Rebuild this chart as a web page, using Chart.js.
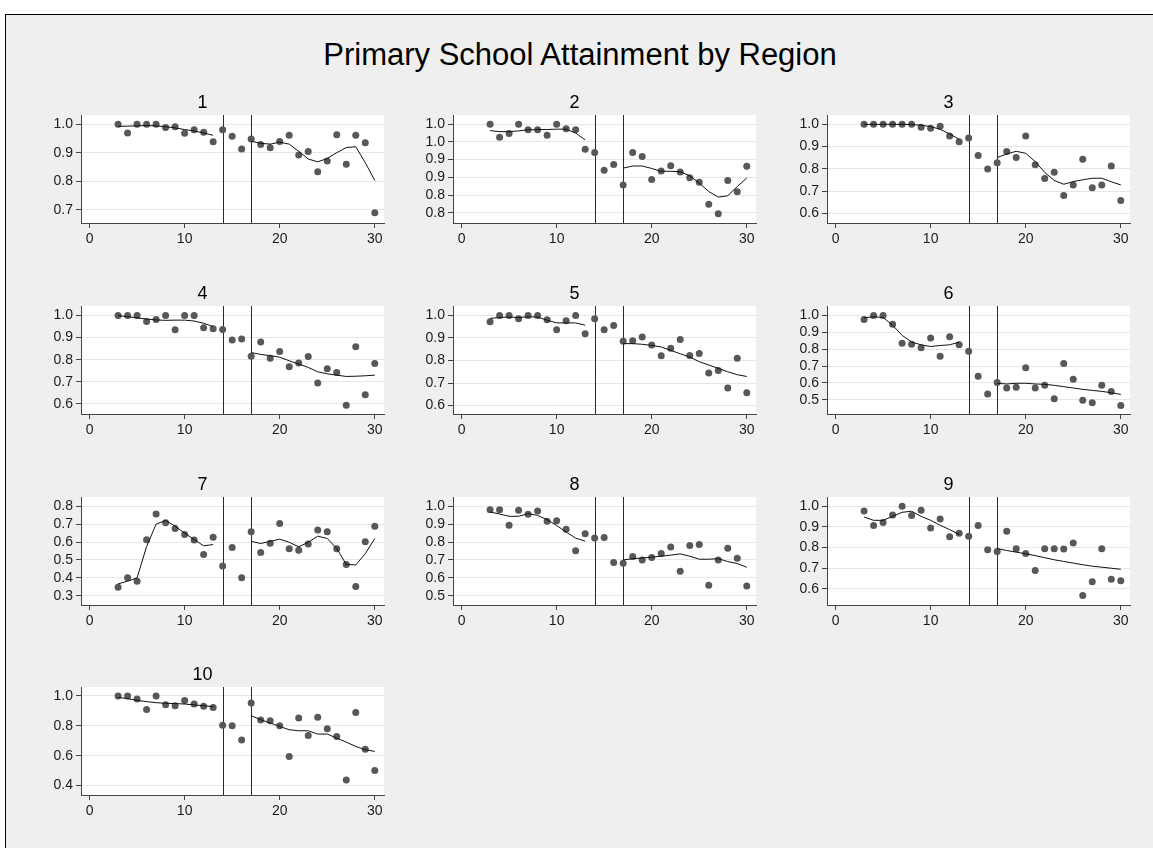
<!DOCTYPE html>
<html>
<head>
<meta charset="utf-8">
<title>Primary School Attainment by Region</title>
<script src="https://cdn.jsdelivr.net/npm/chart.js@4"></script>
<style>
  html, body { margin: 0; padding: 0; background: #ffffff; width: 1153px; height: 848px; overflow: hidden; }
  #frame { position: absolute; left: 5px; top: 14px; width: 1148px; height: 834px; background: #efefef;
           border-left: 1px solid #000; border-top: 1px solid #000; box-sizing: border-box; }
  #title { position: absolute; left: 0; top: 36px; width: 1160px; text-align: center;
           font: 31px "Liberation Sans", Arial, sans-serif; color: #000; line-height: 37px; }
  canvas { position: absolute; }
</style>
</head>
<body>
<div id="frame"></div>
<div id="title">Primary School Attainment by Region</div>
<script>
// Survey years on the x axis (one observation per year, 3..30)
const years = [3,4,5,6,7,8,9,10,11,12,13,14,15,16,17,18,19,20,21,22,23,24,25,26,27,28,29,30];
const regions = ['1','2','3','4','5','6','7','8','9','10'];
const xTicks = [0, 10, 20, 30];
const breakYears = [14, 17];

// Attainment rates by region
const attain1  = [1.000,0.969,1.000,1.000,1.000,0.988,0.991,0.968,0.980,0.972,0.938,0.980,0.958,0.913,0.948,0.929,0.917,0.939,0.961,0.892,0.904,0.833,0.871,0.963,0.860,0.961,0.935,0.690];
const attain2  = [1.000,0.963,0.974,1.000,0.984,0.984,0.969,1.000,0.987,0.984,0.929,0.920,0.870,0.886,0.828,0.920,0.909,0.844,0.868,0.883,0.865,0.849,0.836,0.774,0.747,0.841,0.809,0.881];
const attain3  = [1.000,1.000,1.000,1.000,1.000,1.000,0.987,0.982,0.991,0.948,0.922,0.939,0.860,0.799,0.828,0.878,0.851,0.948,0.819,0.757,0.785,0.681,0.728,0.843,0.715,0.728,0.813,0.658];
const attain4  = [1.000,1.000,1.000,0.973,0.982,1.000,0.936,1.000,1.000,0.945,0.940,0.937,0.889,0.894,0.815,0.880,0.806,0.837,0.768,0.785,0.814,0.694,0.759,0.742,0.594,0.858,0.641,0.783];
const attain5  = [0.972,1.000,1.000,0.985,1.000,1.000,0.981,0.936,0.976,1.000,0.919,0.985,0.936,0.955,0.885,0.888,0.904,0.869,0.821,0.854,0.893,0.822,0.831,0.745,0.756,0.678,0.810,0.657];
const attain6  = [0.976,1.000,1.000,0.948,0.836,0.830,0.808,0.866,0.758,0.874,0.826,0.788,0.640,0.534,0.602,0.570,0.574,0.690,0.570,0.586,0.506,0.716,0.622,0.498,0.482,0.586,0.550,0.466];
const attain7  = [0.347,0.400,0.381,0.613,0.757,0.708,0.676,0.642,0.612,0.530,0.627,0.466,0.570,0.400,0.657,0.541,0.593,0.704,0.562,0.554,0.589,0.668,0.657,0.562,0.475,0.352,0.602,0.689];
const attain8  = [0.981,0.981,0.894,0.978,0.955,0.974,0.917,0.919,0.872,0.752,0.846,0.823,0.826,0.685,0.682,0.719,0.700,0.713,0.736,0.773,0.637,0.781,0.787,0.558,0.700,0.766,0.710,0.554];
const attain9  = [0.977,0.907,0.922,0.958,1.000,0.956,0.981,0.895,0.939,0.852,0.870,0.855,0.907,0.789,0.781,0.879,0.795,0.771,0.689,0.795,0.794,0.793,0.822,0.568,0.634,0.795,0.647,0.640];
const attain10 = [1.000,1.000,0.980,0.910,1.000,0.942,0.935,0.969,0.947,0.931,0.922,0.804,0.800,0.706,0.953,0.839,0.834,0.800,0.595,0.852,0.735,0.858,0.780,0.729,0.438,0.890,0.644,0.501];

// Lowess smooths, fitted separately before and after the break (gap at 14-16)
const smooth1  = [0.992,0.993,0.994,0.995,0.994,0.991,0.987,0.981,0.976,0.969,0.961,null,null,null,0.940,0.933,0.930,0.937,0.930,0.905,0.878,0.868,0.880,0.900,0.918,0.921,0.865,0.803];
const smooth2  = [0.982,0.979,0.979,0.981,0.984,0.985,0.985,0.986,0.986,0.975,0.956,null,null,null,0.876,0.882,0.882,0.875,0.867,0.867,0.866,0.854,0.834,0.810,0.794,0.798,0.824,0.848];
const smooth3  = [1.000,1.000,1.000,1.000,1.000,0.999,0.996,0.990,0.978,0.957,0.933,null,null,null,0.851,0.867,0.879,0.870,0.833,0.784,0.748,0.731,0.743,0.751,0.758,0.758,0.742,0.728];
const smooth4  = [0.999,0.995,0.989,0.984,0.980,0.978,0.979,0.979,0.975,0.965,0.950,null,null,null,0.832,0.824,0.818,0.811,0.795,0.780,0.765,0.745,0.736,0.730,0.724,0.725,0.727,0.730];
const smooth5  = [0.987,0.991,0.993,0.991,0.994,0.993,0.979,0.967,0.967,0.967,0.957,null,null,null,0.875,0.875,0.872,0.867,0.860,0.845,0.830,0.815,0.795,0.780,0.765,0.750,0.737,0.729];
const smooth6  = [0.986,0.992,0.988,0.942,0.882,0.842,0.826,0.816,0.822,0.826,0.842,null,null,null,0.598,0.594,0.598,0.598,0.594,0.592,0.586,0.578,0.570,0.562,0.556,0.550,0.542,0.532];
const smooth7  = [0.366,0.381,0.400,0.575,0.700,0.721,0.689,0.650,0.614,0.579,0.586,null,null,null,0.604,0.592,0.604,0.616,0.599,0.573,0.599,0.633,0.620,0.564,0.475,0.472,0.535,0.620];
const smooth8  = [0.968,0.957,0.944,0.944,0.959,0.949,0.925,0.893,0.856,0.822,0.805,null,null,null,0.700,0.707,0.711,0.715,0.721,0.727,0.734,0.721,0.704,0.704,0.707,0.691,0.680,0.659];
const smooth9  = [0.948,0.932,0.932,0.951,0.971,0.976,0.951,0.932,0.908,0.887,0.864,null,null,null,0.795,0.786,0.778,0.770,0.761,0.751,0.741,0.733,0.725,0.717,0.710,0.705,0.700,0.695];
const smooth10 = [0.991,0.982,0.971,0.962,0.955,0.951,0.949,0.946,0.940,0.935,0.928,null,null,null,0.868,0.841,0.819,0.796,0.774,0.767,0.767,0.745,0.745,0.718,0.691,0.662,0.640,0.629];

// y-axis tick values and their printed labels (one decimal place)
const yTicksA = [0.7, 0.8, 0.9, 1.0];
const yLabelsA = ['0.7','0.8','0.9','1.0'];
const yTicksB = [0.75, 0.8, 0.85, 0.9, 0.95, 1.0];
const yLabelsB = ['0.8','0.8','0.9','0.9','1.0','1.0'];
const yTicksC = [0.6, 0.7, 0.8, 0.9, 1.0];
const yLabelsC = ['0.6','0.7','0.8','0.9','1.0'];
const yTicksD = [0.5, 0.6, 0.7, 0.8, 0.9, 1.0];
const yLabelsD = ['0.5','0.6','0.7','0.8','0.9','1.0'];
const yTicksE = [0.3, 0.4, 0.5, 0.6, 0.7, 0.8];
const yLabelsE = ['0.3','0.4','0.5','0.6','0.7','0.8'];
const yTicksF = [0.4, 0.6, 0.8, 1.0];
const yLabelsF = ['0.4','0.6','0.8','1.0'];

// y-axis extents per region
const yMin = [0.654, 0.721, 0.557, 0.554, 0.5625, 0.416, 0.248, 0.448, 0.522, 0.337];
const yMax = [1.032, 1.026, 1.042, 1.043, 1.042, 1.056, 0.852, 1.052, 1.045, 1.060];

const attainment = [attain1, attain2, attain3, attain4, attain5, attain6, attain7, attain8, attain9, attain10];
const smooths = [smooth1, smooth2, smooth3, smooth4, smooth5, smooth6, smooth7, smooth8, smooth9, smooth10];
const tickSets = [
  [yTicksA, yLabelsA], [yTicksB, yLabelsB], [yTicksC, yLabelsC],
  [yTicksC, yLabelsC], [yTicksC, yLabelsC], [yTicksD, yLabelsD],
  [yTicksE, yLabelsE], [yTicksD, yLabelsD], [yTicksC, yLabelsC],
  [yTicksF, yLabelsF]
];

// Panel geometry (plot-area corners)
const colLeft = [81, 453, 827];
const rowTop = [115, 306, 497, 687];
const plotW = 303, plotH = 108;
const axisW = 60, titleH = 27, xAxisH = 30, padRight = 14;

const FONT = '"Liberation Sans", Arial, sans-serif';

// White plot region and vertical reference lines at the break years
const panelDecor = {
  id: 'panelDecor',
  beforeDraw(chart) {
    const a = chart.chartArea, ctx = chart.ctx;
    ctx.save();
    ctx.fillStyle = '#ffffff';
    ctx.fillRect(a.left, a.top, a.right - a.left, a.bottom - a.top);
    ctx.restore();
  },
  beforeDatasetsDraw(chart) {
    const a = chart.chartArea, ctx = chart.ctx, xs = chart.scales.x;
    ctx.save();
    ctx.strokeStyle = '#2a2a2a';
    ctx.lineWidth = 1;
    breakYears.forEach(v => {
      const px = Math.round(xs.getPixelForValue(v)) + 0.5;
      ctx.beginPath();
      ctx.moveTo(px, a.top);
      ctx.lineTo(px, a.bottom);
      ctx.stroke();
    });
    ctx.restore();
  }
};

regions.forEach((name, i) => {
  const col = i % 3, row = Math.floor(i / 3);
  const canvas = document.createElement('canvas');
  const cw = axisW + plotW + padRight, ch = titleH + plotH + xAxisH;
  canvas.width = cw; canvas.height = ch;
  canvas.style.left = (colLeft[col] - axisW) + 'px';
  canvas.style.top = (rowTop[row] - titleH) + 'px';
  canvas.style.width = cw + 'px'; canvas.style.height = ch + 'px';
  document.body.appendChild(canvas);

  const [yt, yl] = tickSets[i];
  const pts = years.map((x, k) => ({ x: x, y: attainment[i][k] }));
  const fit = years.map((x, k) => ({ x: x, y: smooths[i][k] }));

  new Chart(canvas, {
    type: 'scatter',
    data: {
      datasets: [
        {
          type: 'scatter', data: pts, pointRadius: 3.5, pointHoverRadius: 3.5,
          backgroundColor: '#585858', borderWidth: 0, order: 2
        },
        {
          type: 'line', data: fit, borderColor: '#111111', borderWidth: 1,
          pointRadius: 0, tension: 0, spanGaps: false, fill: false, order: 1
        }
      ]
    },
    options: {
      responsive: false, animation: false, devicePixelRatio: 1,
      layout: { padding: { left: 0, right: padRight, top: 0, bottom: 0 } },
      plugins: {
        legend: { display: false }, tooltip: { enabled: false },
        title: {
          display: true, text: name, color: '#000',
          font: { family: FONT, size: 18, weight: 'normal', lineHeight: 1 },
          padding: { top: 6, bottom: 3 }
        }
      },
      scales: {
        x: {
          type: 'linear', min: -0.9, max: 30.97,
          afterBuildTicks: s => { s.ticks = xTicks.map(v => ({ value: v })); },
          afterFit: s => { s.height = xAxisH; },
          grid: { drawOnChartArea: false, drawTicks: true, tickLength: 5, tickColor: '#444' },
          border: { color: '#444', width: 1 },
          ticks: { color: '#1a1a1a', font: { family: FONT, size: 14 }, padding: 3, maxRotation: 0,
                   autoSkip: false, callback: v => String(v) }
        },
        y: {
          type: 'linear', min: yMin[i], max: yMax[i],
          afterBuildTicks: s => { s.ticks = yt.map(v => ({ value: v })); },
          afterFit: s => { s.width = axisW; },
          grid: { color: '#e6e6e6', lineWidth: 1, drawTicks: true, tickLength: 5, tickColor: '#444' },
          border: { color: '#444', width: 1 },
          ticks: { color: '#1a1a1a', font: { family: FONT, size: 14 }, padding: 3, autoSkip: false,
                   callback: (v, idx) => yl[idx] }
        }
      }
    },
    plugins: [panelDecor]
  });
});
</script>
</body>
</html>
